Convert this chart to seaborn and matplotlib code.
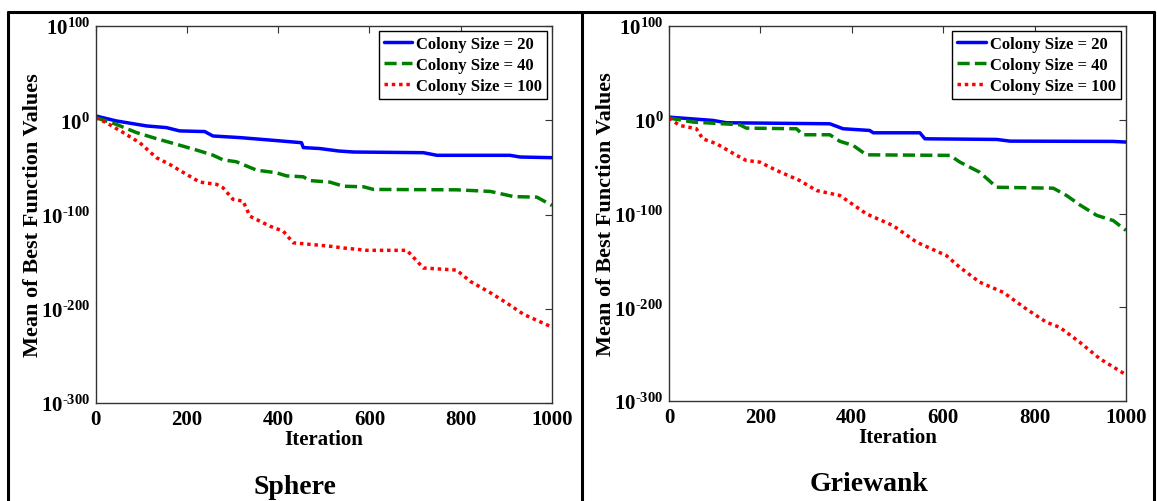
import numpy as np
import pandas as pd
import matplotlib
matplotlib.use("Agg")
import matplotlib.pyplot as plt
from matplotlib.lines import Line2D
from matplotlib.ticker import NullLocator
import seaborn as sns

# ---------------- data (log10 of mean best function value) ----------------
series_labels = ["Colony Size = 20", "Colony Size = 40", "Colony Size = 100"]
panel_titles = ["Sphere", "Griewank"]

# Sphere
sph20_it = [0, 45, 111, 155, 184, 239, 257, 316, 382, 451, 455, 491, 532, 565, 718, 748, 908, 930, 1000]
sph20_lg = [4.6, -0.7, -6, -7.8, -11.3, -12, -16.7, -18.4, -21, -23.8, -29, -30, -32.6, -33.7, -34.4, -37.2, -37.2, -39, -39.7]

sph40_it = [0, 45, 89, 133, 177, 221, 257, 279, 308, 353, 396, 418, 455, 469, 513, 543, 587, 609, 791, 865, 916, 967, 1000]
sph40_lg = [2.8, -4.3, -13, -19.5, -25.5, -31.6, -37, -42, -44, -53, -55.7, -59, -60, -64, -65.6, -70, -70.6, -73.4, -73.8, -75.5, -81, -81.6, -90.4]

sph100_it = [0, 23, 60, 97, 133, 162, 199, 228, 265, 279, 301, 323, 338, 382, 411, 433, 514, 543, 594, 682, 718, 791, 821, 865, 901, 938, 1000]
sph100_lg = [2.8, -2.5, -13, -24, -39.7, -46.8, -57.4, -65.6, -68, -71.6, -84, -85.8, -101.8, -112.4, -117.7, -130, -133.7, -135.5, -138, -138, -156.7, -159, -171, -183, -194, -206, -219.5]

# Griewank
gri20_it = [0, 96, 126, 352, 381, 439, 447, 549, 560, 717, 746, 972, 1000]
gri20_lg = [2.8, -0.7, -3.2, -4.3, -9.6, -11.4, -13.9, -13.9, -20.3, -21, -22.8, -23.1, -23.8]

gri40_it = [0, 53, 155, 169, 279, 293, 352, 374, 403, 432, 615, 636, 680, 717, 841, 870, 899, 936, 972, 1000]
gri40_lg = [1.8, -2.5, -5.3, -8.9, -9.6, -16, -16, -23, -27.4, -37.4, -38, -45, -56, -72, -73, -80.8, -90.8, -102, -107.5, -118]

gri100_it = [0, 23, 60, 74, 104, 148, 169, 199, 235, 286, 323, 374, 432, 490, 542, 607, 636, 680, 731, 782, 826, 855, 899, 943, 1000]
gri100_lg = [1.8, -6, -9.6, -20.3, -25.6, -38, -43.4, -45.2, -54, -64.8, -75.5, -80.8, -100.4, -112.8, -130.6, -144.9, -157.3, -173.3, -184, -201.9, -216, -221.4, -237.4, -255, -272]

xticks = [0, 200, 400, 600, 800, 1000]
ytick_exps = [-300, -200, -100, 0, 100]
ytick_labels = [r"$10^{\text{-}300}$", r"$10^{\text{-}200}$", r"$10^{\text{-}100}$", r"$10^{0}$", r"$10^{100}$"]

panels = [
    [(sph20_it, sph20_lg), (sph40_it, sph40_lg), (sph100_it, sph100_lg)],
    [(gri20_it, gri20_lg), (gri40_it, gri40_lg), (gri100_it, gri100_lg)],
]

# ---------------- style ----------------
sns.set_theme(style="white")
plt.rcParams["font.family"] = ["Liberation Serif", "DejaVu Serif"]
plt.rcParams["font.weight"] = "bold"
plt.rcParams["text.color"] = "black"
plt.rcParams["axes.labelcolor"] = "black"
plt.rcParams["xtick.color"] = "black"
plt.rcParams["ytick.color"] = "black"
plt.rcParams["mathtext.fontset"] = "custom"
plt.rcParams["mathtext.rm"] = "Liberation Serif:bold"
plt.rcParams["mathtext.bf"] = "Liberation Serif:bold"
plt.rcParams["mathtext.it"] = "Liberation Serif:bold"
plt.rcParams["axes.unicode_minus"] = False

palette = {series_labels[0]: "#0000ff", series_labels[1]: "#008000", series_labels[2]: "#ff0000"}
dashes = {series_labels[0]: "", series_labels[1]: (3.5, 1.5), series_labels[2]: (1.0, 1.1)}

fig = plt.figure(figsize=(11.57, 5.02), dpi=100)
axes_pos = [[0.0827, 0.1952, 0.3944, 0.751], [0.5782, 0.1992, 0.395, 0.747]]
title_pos = [(0.255, 0.028), (0.751, 0.034)]

for p, (pos, data) in enumerate(zip(axes_pos, panels)):
    ax = fig.add_axes(pos)
    rows = []
    for lab, (it, lg) in zip(series_labels, data):
        for xi, yi in zip(it, lg):
            rows.append({"Iteration": xi, "Value": 10.0 ** yi, "Series": lab})
    df = pd.DataFrame(rows)
    sns.lineplot(data=df, x="Iteration", y="Value", hue="Series", style="Series",
                 palette=palette, dashes=dashes, linewidth=2.5, estimator=None,
                 sort=False, ax=ax)
    ax.set_yscale("log")
    ax.set_xlim(0, 1000)
    ax.set_ylim(1e-300, 1e100)
    ax.set_xticks(xticks)
    ax.set_xticklabels([str(x) for x in xticks], fontsize=15, fontweight="bold")
    ax.set_yticks([10.0 ** e for e in ytick_exps])
    ax.set_yticklabels(ytick_labels, fontsize=15)
    ax.yaxis.set_minor_locator(NullLocator())
    ax.xaxis.set_minor_locator(NullLocator())
    ax.tick_params(direction="in", length=5, width=0.8, color="#333333",
                   labelcolor="black", top=True, right=True,
                   labeltop=False, labelright=False, pad=4)
    for s in ax.spines.values():
        s.set_color("#333333")
        s.set_linewidth(1.0)
    ax.set_xlabel("Iteration", fontsize=15, fontweight="bold", color="black")
    ax.set_ylabel("Mean of Best Function Values", fontsize=16, fontweight="bold", color="black")
    ax.xaxis.set_label_coords(0.5, -0.068)
    ax.yaxis.set_label_coords(-0.116, 0.5)
    handles, labels = ax.get_legend_handles_labels()
    leg = ax.legend(handles, labels, loc="upper right",
                    frameon=True, fancybox=False, framealpha=1, edgecolor="black",
                    borderpad=0.3, labelspacing=0.3, handlelength=1.7,
                    handletextpad=0.25, borderaxespad=0.3,
                    prop={"weight": "bold", "size": 12})
    leg.get_frame().set_linewidth(1.0)
    for t in leg.get_texts():
        t.set_color("black")
    fig.text(title_pos[p][0], title_pos[p][1], panel_titles[p], fontsize=20,
             fontweight="bold", ha="center", va="center", color="black")

# outer table frame
lw = 2.2
ytop = 1 - 12.5 / 502
for x in [7.7 / 1157, 581.5 / 1157, 1154 / 1157]:
    fig.add_artist(Line2D([x, x], [0, ytop], transform=fig.transFigure, color="black", lw=lw))
fig.add_artist(Line2D([7.7 / 1157, 1154 / 1157], [ytop, ytop], transform=fig.transFigure, color="black", lw=lw))

fig.savefig("out.png", dpi=100)
